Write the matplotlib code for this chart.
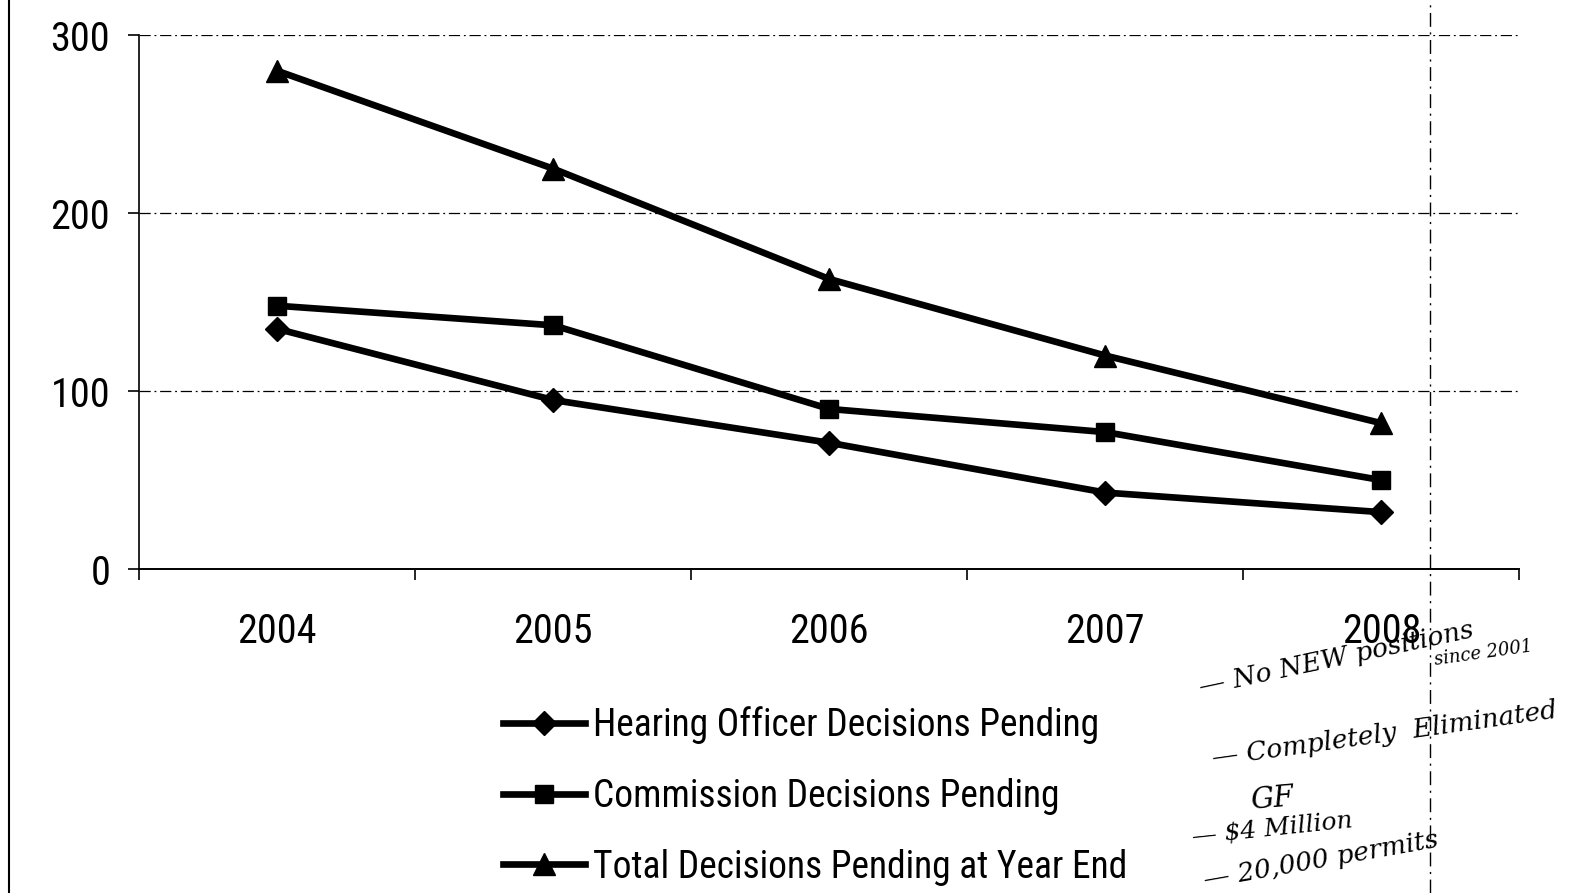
import matplotlib.pyplot as plt
import numpy as np
from matplotlib.lines import Line2D
from matplotlib import font_manager

# look for a condensed sans, like the Arial Narrow of the scan
names = set(f.name for f in font_manager.fontManager.ttflist)
narrow = None
for cand in ['Liberation Sans Narrow', 'Roboto Condensed', 'Open Sans Condensed', 'DejaVu Sans Condensed']:
    if cand in names:
        narrow = cand
        break
if narrow:
    plt.rcParams['font.family'] = [narrow, 'DejaVu Sans']
    tick_fs, leg_fs = 29, 27
else:
    plt.rcParams['font.family'] = ['Liberation Sans', 'DejaVu Sans']
    tick_fs, leg_fs = 26, 24

years = ['2004', '2005', '2006', '2007', '2008']
hearing_officer = [135, 95, 71, 43, 32]
commission = [148, 137, 90, 77, 50]
total_pending = [280, 225, 163, 120, 82]

series_labels = ['Hearing Officer Decisions Pending',
                 'Commission Decisions Pending',
                 'Total Decisions Pending at Year End']

notes = ['\u2014 No NEW positions', 'since 2001', '\u2014 Completely  Eliminated',
         'GF', '\u2014 $4 Million', '\u2014 20,000 permits']

fig = plt.figure(figsize=(15.83, 8.93), dpi=100)
ax = fig.add_axes([0.088, 0.3627, 0.8718, 0.5978])

x = np.arange(len(years))
ax.plot(x, hearing_officer, color='black', lw=4.8, marker='D', ms=12, label=series_labels[0])
ax.plot(x, commission, color='black', lw=4.8, marker='s', ms=13, label=series_labels[1])
ax.plot(x, total_pending, color='black', lw=4.8, marker='^', ms=16, label=series_labels[2])

ax.set_xlim(-0.5, 4.5)
ax.set_ylim(0, 300)
ax.set_yticks([0, 100, 200, 300])
ax.set_xticks(x)
ax.set_xticklabels(years)
ax.set_xticks(np.arange(-0.5, 5, 1), minor=True)
ax.tick_params(axis='x', which='major', length=0, pad=31, labelsize=tick_fs)
ax.tick_params(axis='x', which='minor', length=8, width=1.2, direction='out')
ax.tick_params(axis='y', length=8, width=1.2, pad=13, labelsize=tick_fs)

for s in ['top', 'right']:
    ax.spines[s].set_visible(False)
ax.spines['left'].set_linewidth(1.2)
ax.spines['bottom'].set_linewidth(1.4)

for v in [100, 200, 300]:
    ax.axhline(v, color='black', lw=0.9, ls=(0, (9, 3, 1.5, 3)), zorder=0)

fig.legend(loc='upper left', bbox_to_anchor=(0.308, 0.226), frameon=False,
           fontsize=leg_fs, handlelength=2.2, handletextpad=0.2, labelspacing=0.9,
           borderaxespad=0)

# page edge and the fold line of the scan
fig.add_artist(Line2D([0.0055, 0.0055], [0, 1], color='black', lw=1.5))
fig.add_artist(Line2D([0.9035, 0.9035], [0, 1], color='black', lw=1.0, ls=(0, (10, 4, 1.5, 4))))

# handwritten notes
hand = dict(family='DejaVu Serif', style='italic', color='black')
fig.text(0.756, 0.222, notes[0], fontsize=19, rotation=12, **hand)
fig.text(0.905, 0.255, notes[1], fontsize=13, rotation=8, **hand)
fig.text(0.765, 0.142, notes[2], fontsize=19, rotation=8, **hand)
fig.text(0.789, 0.094, notes[3], fontsize=21, rotation=5, **hand)
fig.text(0.752, 0.055, notes[4], fontsize=18, rotation=6, **hand)
fig.text(0.759, 0.006, notes[5], fontsize=19, rotation=10, **hand)

fig.savefig('out.png', dpi=100)
